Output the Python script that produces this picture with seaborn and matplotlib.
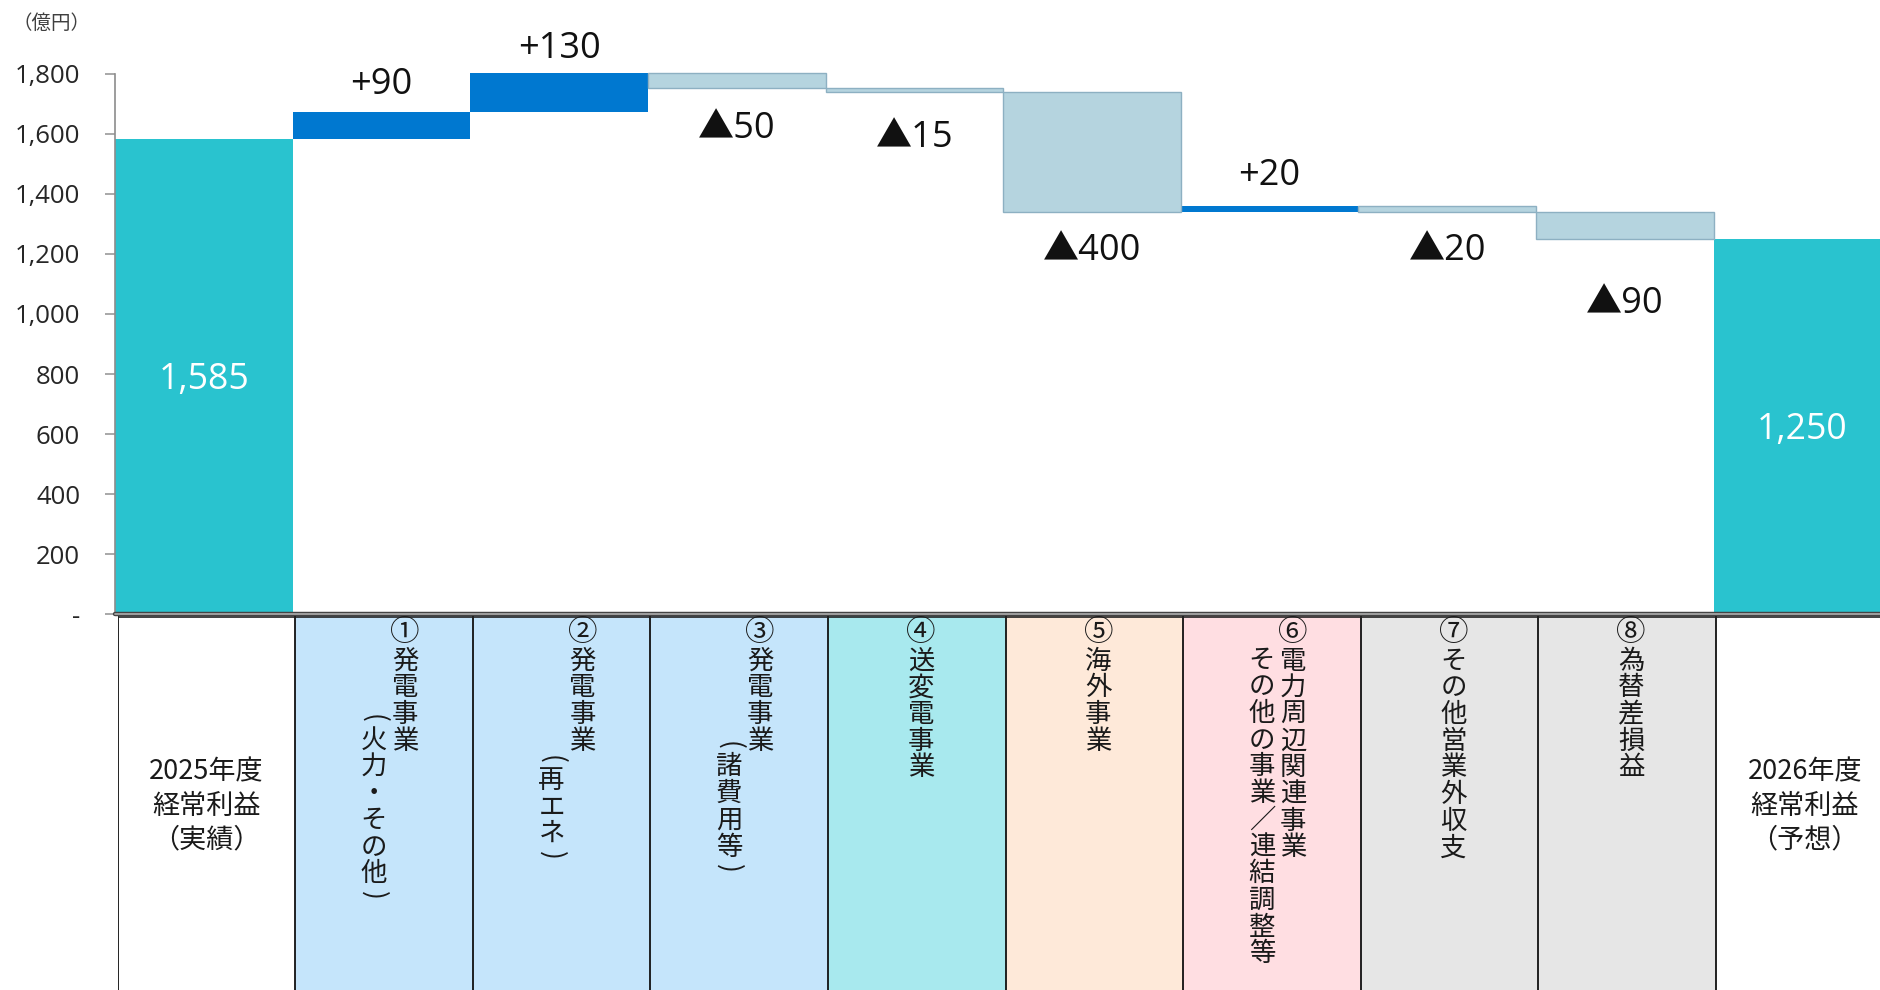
import matplotlib
matplotlib.use("Agg")
import matplotlib.pyplot as plt
import seaborn as sns
import numpy as np
import pandas as pd

# ---------------- data ----------------
categories = ["2025年度経常利益（実績）", "①発電事業（火力・その他）", "②発電事業（再エネ）",
              "③発電事業（諸費用等）", "④送変電事業", "⑤海外事業",
              "⑥電力周辺関連事業その他の事業／連結調整等", "⑦その他営業外収支",
              "⑧為替差損益", "2026年度経常利益（予想）"]
start_value = 1585
changes = [90, 130, -50, -15, -400, 20, -20, -90]
end_value = 1250
change_labels = ["+90", "+130", "▲50", "▲15", "▲400", "+20", "▲20", "▲90"]
total_labels = ["1,585", "1,250"]
y_ticks = [0, 200, 400, 600, 800, 1000, 1200, 1400, 1600, 1800]
y_tick_labels = ["-", "200", "400", "600", "800", "1,000", "1,200", "1,400", "1,600", "1,800"]
unit_label = "（億円）"

table_main = ["", "①発電事業", "②発電事業", "③発電事業", "④送変電事業", "⑤海外事業",
              "⑥電力周辺関連事業", "⑦その他営業外収支", "⑧為替差損益", ""]
table_sub = ["", "（火力・その他）", "（再エネ）", "（諸費用等）", "", "",
             "その他の事業／連結調整等", "", "", ""]
total_text = {0: ["2025年度", "経常利益", "（実績）"], 9: ["2026年度", "経常利益", "（予想）"]}

# ---------------- style ----------------
table_colors = ["#FFFFFF", "#C5E5FB", "#C5E5FB", "#C5E5FB", "#A8E9EE", "#FEE9D9",
                "#FFDEE2", "#E6E6E6", "#E6E6E6", "#FFFFFF"]
palette = {"total": "#29C3CF", "up": "#0078D0", "down": "#B5D4DF"}
label_offsets = [26, 24, -41, -46, -39, 30, -39, -65]  # pixels from bar edge

# ---------------- derived ----------------
cum = start_value + np.cumsum(changes)
prev = np.concatenate([[start_value], cum[:-1]])
bottoms = np.concatenate([[0], np.minimum(prev, cum), [0]])
heights = np.concatenate([[start_value], np.abs(changes), [end_value]])
kinds = ["total"] + ["up" if c > 0 else "down" for c in changes] + ["total"]
df = pd.DataFrame({"cat": categories, "height": heights, "kind": kinds})

sns.set_style("white")
plt.rcParams["font.family"] = ["Open Sans", "Noto Sans CJK JP", "DejaVu Sans"]

W, H = 1881, 990
fig = plt.figure(figsize=(W / 100, H / 100), dpi=100)
colw = 177.6
x0 = 115.2
y0px, y1800px = 614, 74
ax = fig.add_axes([x0 / W, (H - y0px) / H, 10 * colw / W, (y0px - y1800px) / H])

sns.barplot(data=df, x="cat", y="height", hue="kind", palette=palette, width=1.0,
            dodge=False, legend=False, errorbar=None, saturation=1, ax=ax)

for p in ax.patches:
    h = p.get_height()
    if not np.isfinite(h) or h == 0:
        continue
    i = int(round(p.get_x() + p.get_width() / 2))
    p.set_y(bottoms[i])
    p.set_height(heights[i])
    p.set_clip_on(False)
    if kinds[i] == "down":
        p.set_edgecolor("#8DB0C2")
        p.set_linewidth(1.0)
    else:
        p.set_linewidth(0)

ax.set_xlim(-0.5, 9.5)
ax.set_ylim(0, 1800)
ax.set_yticks(y_ticks)
ax.set_yticklabels(y_tick_labels)
ax.set_xlabel("")
ax.set_ylabel("")
ax.tick_params(axis="x", length=0, labelbottom=False)
ax.tick_params(axis="y", left=True, length=7.2, width=1.2, color="#9a9a9a", pad=18,
               labelsize=18.5, labelcolor="#262626")
for s in ["top", "right"]:
    ax.spines[s].set_visible(False)
ax.spines["left"].set_color("#8c8c8c")
ax.spines["left"].set_linewidth(1.2)
ax.spines["bottom"].set_visible(False)

# change labels
for k, (c, lab, off) in enumerate(zip(changes, change_labels, label_offsets)):
    i = k + 1
    edge = bottoms[i] + heights[i] if c > 0 else bottoms[i]
    ax.annotate(lab, xy=(i, edge), xytext=(0, off), textcoords="offset pixels",
                ha="center", va="center", fontsize=26, color="#111111",
                annotation_clip=False)
# totals
for i, lab in zip([0, 9], total_labels):
    ax.annotate(lab, xy=(i, heights[i] / 2), xytext=(0, -4), textcoords="offset pixels",
                ha="center", va="center", fontsize=25.7, color="white")

fig.text(12 / W, 1 - 23 / H, unit_label, ha="left", va="center", fontsize=14,
         color="#404040", family=["Noto Sans CJK JP", "DejaVu Sans"])

# ---------------- table ----------------
ttop = 616
axt = fig.add_axes([(x0 + 2.4) / W, 0, 10 * colw / W, (H - ttop) / H])
axt.set_xlim(-0.5, 9.5)
axt.set_ylim(H, ttop)
axt.axis("off")
axt.bar(np.arange(10), H - ttop, bottom=ttop, width=1.0, color=table_colors, linewidth=0)
axt.vlines(np.arange(10) - 0.5, ttop, H, color="#111111", lw=1.3)
axt.hlines(617.5, -0.5, 9.6, color="#222222", lw=1.2, clip_on=False)
ax.axhline(0, color="#444444", lw=3.2, clip_on=False, zorder=5)
ax.axhline(0, color="#b0b0b0", lw=1.2, clip_on=False, zorder=6)

jp = ["Noto Sans CJK JP", "DejaVu Sans"]
fs_h = 19.5
fs_v = 19
P = 26.7
circled = "①②③④⑤⑥⑦⑧"


def advance(ch):
    if ch in "（）":
        return 0.6 * P
    if ch in circled:
        return 1.1 * P
    return P


def vert(xc, s, top=None, center=None):
    adv = [advance(ch) for ch in s]
    tot = sum(adv)
    y = top if top is not None else center - tot / 2
    for ch, a in zip(s, adv):
        if ch in "（）":
            axt.text(xc, y + a / 2, "(" if ch == "（" else ")", ha="center", va="center",
                     rotation=-90, fontsize=fs_v, color="#1a1a1a", family=jp)
        else:
            size = fs_v * 1.12 if ch in circled else fs_v
            axt.text(xc, y + a / 2, ch, ha="center", va="center", fontsize=size,
                     color="#1a1a1a", family=jp)
        y += a


for i in range(10):
    if i in total_text:
        for j, line in enumerate(total_text[i]):
            axt.text(i, 772 + 34 * j, line, ha="center", va="center", fontsize=fs_h,
                     color="#1a1a1a", family=jp)
        continue
    if table_sub[i]:
        vert(i + 21 / colw, table_main[i], top=633 - 0.55 * P)
        vert(i - 10 / colw, table_sub[i], center=807)
    else:
        vert(i + 4 / colw, table_main[i], top=633 - 0.55 * P)

fig.savefig("out.png", dpi=100)
